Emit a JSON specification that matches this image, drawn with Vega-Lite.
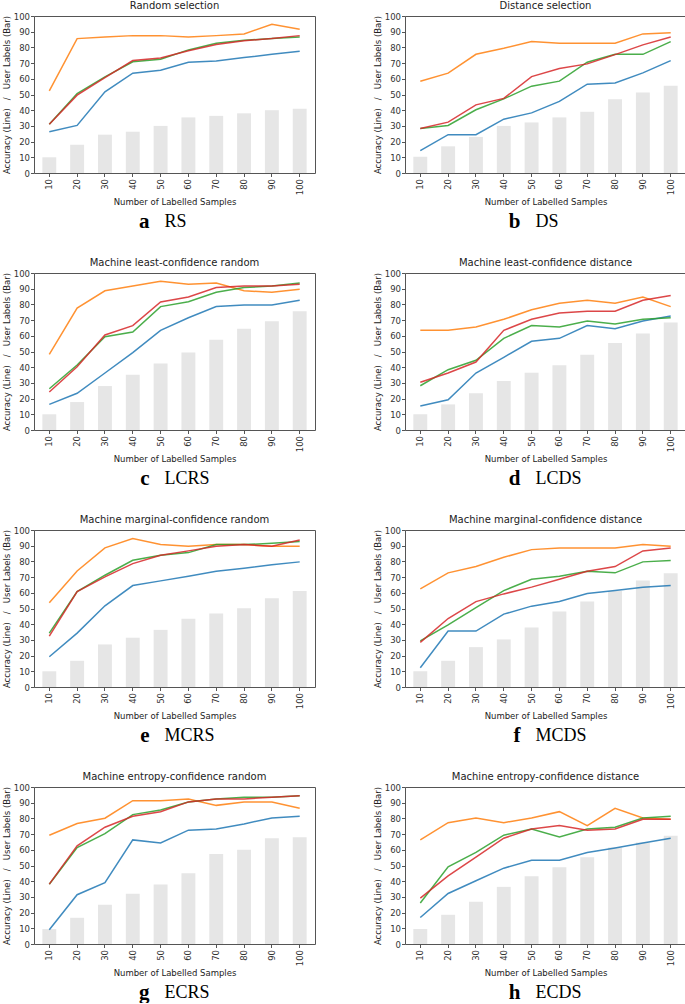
{
  "$schema": "https://vega.github.io/schema/vega-lite/v6.json",
  "padding": {"left": 1, "top": 0, "right": 0, "bottom": 0},
  "background": "white",
  "datasets": {
    "acc": [
      {"p":"a","x":10,"bar":10,"b":26.3,"o":52.3,"g":31,"r":31},
      {"p":"a","x":20,"bar":18,"b":30.3,"o":85.6,"g":50.6,"r":49.6},
      {"p":"a","x":30,"bar":24.4,"b":51.7,"o":86.6,"g":61.2,"r":60.8},
      {"p":"a","x":40,"bar":26.3,"b":63.6,"o":87.5,"g":70.8,"r":71.6},
      {"p":"a","x":50,"bar":30,"b":65.5,"o":87.5,"g":72.5,"r":73.3},
      {"p":"a","x":60,"bar":35.4,"b":70.6,"o":86.6,"g":78.4,"r":77.8},
      {"p":"a","x":70,"bar":36.4,"b":71.4,"o":87.5,"g":82.6,"r":81.8},
      {"p":"a","x":80,"bar":38,"b":73.5,"o":88.6,"g":84.5,"r":84.3},
      {"p":"a","x":90,"bar":40,"b":75.6,"o":94.7,"g":85.6,"r":85.6},
      {"p":"a","x":100,"bar":41,"b":77.5,"o":91.5,"g":86.6,"r":87.5},
      {"p":"b","x":10,"bar":10.4,"b":14.2,"o":58.5,"g":28.4,"r":28.4},
      {"p":"b","x":20,"bar":17,"b":24.4,"o":63.6,"g":30.3,"r":32.4},
      {"p":"b","x":30,"bar":23,"b":24.4,"o":75.6,"g":40.3,"r":43.4},
      {"p":"b","x":40,"bar":30,"b":34.3,"o":79.4,"g":47.2,"r":47.5},
      {"p":"b","x":50,"bar":32.2,"b":38.3,"o":83.7,"g":55.3,"r":61.4},
      {"p":"b","x":60,"bar":35.4,"b":45.6,"o":82.6,"g":58.5,"r":66.5},
      {"p":"b","x":70,"bar":39,"b":56.6,"o":82.6,"g":70.6,"r":69.5},
      {"p":"b","x":80,"bar":47,"b":57.4,"o":82.6,"g":75.6,"r":75.4},
      {"p":"b","x":90,"bar":51.3,"b":63.8,"o":88.6,"g":75.6,"r":81.6},
      {"p":"b","x":100,"bar":55.5,"b":71.6,"o":89.4,"g":83.7,"r":86.6},
      {"p":"c","x":10,"bar":10,"b":16.3,"o":48.2,"g":26.3,"r":24.2},
      {"p":"c","x":20,"bar":17.8,"b":23.4,"o":77.7,"g":41.4,"r":40.3},
      {"p":"c","x":30,"bar":28,"b":36.3,"o":88.7,"g":59.4,"r":60.5},
      {"p":"c","x":40,"bar":35.2,"b":49.3,"o":91.7,"g":62.4,"r":66.5},
      {"p":"c","x":50,"bar":42.3,"b":63.5,"o":94.7,"g":78.6,"r":81.5},
      {"p":"c","x":60,"bar":49.3,"b":71.5,"o":92.8,"g":81.7,"r":84.7},
      {"p":"c","x":70,"bar":57.5,"b":78.6,"o":93.6,"g":87.7,"r":90.7},
      {"p":"c","x":80,"bar":64.5,"b":79.6,"o":88.7,"g":90.7,"r":91.7},
      {"p":"c","x":90,"bar":69.2,"b":79.6,"o":87.7,"g":91.7,"r":91.7},
      {"p":"c","x":100,"bar":75.6,"b":82.6,"o":89.6,"g":93.6,"r":92.8},
      {"p":"d","x":10,"bar":10,"b":15.3,"o":63.5,"g":28.2,"r":30.4},
      {"p":"d","x":20,"bar":16.3,"b":19.3,"o":63.5,"g":38.4,"r":36.3},
      {"p":"d","x":30,"bar":23.4,"b":36.3,"o":65.6,"g":44.4,"r":43.3},
      {"p":"d","x":40,"bar":31.2,"b":46.3,"o":70.5,"g":58.4,"r":63.5},
      {"p":"d","x":50,"bar":36.5,"b":56.5,"o":76.6,"g":66.5,"r":70.5},
      {"p":"d","x":60,"bar":41.2,"b":58.4,"o":80.7,"g":65.6,"r":74.5},
      {"p":"d","x":70,"bar":48,"b":66.5,"o":82.6,"g":69.4,"r":75.6},
      {"p":"d","x":80,"bar":55.4,"b":64.5,"o":80.7,"g":67.5,"r":75.6},
      {"p":"d","x":90,"bar":61.4,"b":69.4,"o":84.7,"g":70.5,"r":82.6},
      {"p":"d","x":100,"bar":68.4,"b":72.6,"o":78.6,"g":71.5,"r":85.6},
      {"p":"e","x":10,"bar":10,"b":19.3,"o":53.6,"g":34.3,"r":32.4},
      {"p":"e","x":20,"bar":16.7,"b":34.3,"o":73.9,"g":60.8,"r":60.8},
      {"p":"e","x":30,"bar":27.1,"b":51.7,"o":88.6,"g":71.2,"r":70.1},
      {"p":"e","x":40,"bar":31.4,"b":64.6,"o":94.5,"g":80.7,"r":78.6},
      {"p":"e","x":50,"bar":36.4,"b":67.6,"o":90.7,"g":83.9,"r":83.9},
      {"p":"e","x":60,"bar":43.4,"b":70.6,"o":89.6,"g":85.6,"r":86.7},
      {"p":"e","x":70,"bar":46.8,"b":73.7,"o":90.7,"g":90.7,"r":89.6},
      {"p":"e","x":80,"bar":50.2,"b":75.6,"o":90.7,"g":90.7,"r":90.7},
      {"p":"e","x":90,"bar":56.6,"b":77.8,"o":89.6,"g":91.5,"r":89.6},
      {"p":"e","x":100,"bar":61.2,"b":79.7,"o":89.6,"g":92.6,"r":93.6},
      {"p":"f","x":10,"bar":10,"b":12.3,"o":62.5,"g":29.4,"r":28.4},
      {"p":"f","x":20,"bar":16.7,"b":35.6,"o":72.7,"g":39.6,"r":43.6},
      {"p":"f","x":30,"bar":25.4,"b":35.6,"o":76.7,"g":50.6,"r":54.4},
      {"p":"f","x":40,"bar":30.3,"b":46.4,"o":82.6,"g":61.4,"r":59.3},
      {"p":"f","x":50,"bar":37.9,"b":51.5,"o":87.5,"g":68.6,"r":63.6},
      {"p":"f","x":60,"bar":48.1,"b":54.4,"o":88.6,"g":70.6,"r":68.6},
      {"p":"f","x":70,"bar":54.4,"b":59.5,"o":88.6,"g":73.7,"r":73.7},
      {"p":"f","x":80,"bar":61.2,"b":61.4,"o":88.6,"g":72.7,"r":76.7},
      {"p":"f","x":90,"bar":67.8,"b":63.6,"o":90.7,"g":79.7,"r":86.7},
      {"p":"f","x":100,"bar":72.5,"b":64.6,"o":89.6,"g":80.5,"r":88.6},
      {"p":"g","x":10,"bar":9.5,"b":9.1,"o":69.3,"g":38.1,"r":38.1},
      {"p":"g","x":20,"bar":16.7,"b":31.4,"o":76.7,"g":61.4,"r":62.5},
      {"p":"g","x":30,"bar":25,"b":39,"o":80.1,"g":70.3,"r":74.4},
      {"p":"g","x":40,"bar":32,"b":66.3,"o":91.3,"g":82.4,"r":81.4},
      {"p":"g","x":50,"bar":37.9,"b":64.4,"o":91.3,"g":85.4,"r":84.3},
      {"p":"g","x":60,"bar":45.1,"b":72.5,"o":92.4,"g":90.5,"r":90.5},
      {"p":"g","x":70,"bar":57.4,"b":73.3,"o":88.3,"g":92.4,"r":92.4},
      {"p":"g","x":80,"bar":60,"b":76.5,"o":90.5,"g":93.4,"r":92.4},
      {"p":"g","x":90,"bar":67.4,"b":80.3,"o":90.5,"g":93.4,"r":93.4},
      {"p":"g","x":100,"bar":68,"b":81.4,"o":86.4,"g":94.5,"r":94.5},
      {"p":"h","x":10,"bar":9.5,"b":16.9,"o":66.3,"g":26.1,"r":29.2},
      {"p":"h","x":20,"bar":18.6,"b":32.2,"o":77.3,"g":49.2,"r":43.4},
      {"p":"h","x":30,"bar":26.9,"b":40.3,"o":80.3,"g":58.3,"r":55.3},
      {"p":"h","x":40,"bar":36.4,"b":48.3,"o":77.3,"g":69.3,"r":67.4},
      {"p":"h","x":50,"bar":43.2,"b":53.4,"o":80.3,"g":73.3,"r":73.3},
      {"p":"h","x":60,"bar":48.9,"b":53.4,"o":84.3,"g":68.2,"r":75.4},
      {"p":"h","x":70,"bar":55.3,"b":58.3,"o":75.4,"g":73.3,"r":72.5},
      {"p":"h","x":80,"bar":61.4,"b":61.2,"o":86.4,"g":74.4,"r":73.3},
      {"p":"h","x":90,"bar":64.6,"b":64.4,"o":80.3,"g":80.3,"r":79.4},
      {"p":"h","x":100,"bar":68.9,"b":67.4,"o":79.4,"g":81.4,"r":79.4}
    ],
    "cap": [
      {"p":"a","letter":"a","name":"RS"},
      {"p":"b","letter":"b","name":"DS"},
      {"p":"c","letter":"c","name":"LCRS"},
      {"p":"d","letter":"d","name":"LCDS"},
      {"p":"e","letter":"e","name":"MCRS"},
      {"p":"f","letter":"f","name":"MCDS"},
      {"p":"g","letter":"g","name":"ECRS"},
      {"p":"h","letter":"h","name":"ECDS"}
    ]
  },
  "spacing": 25,
  "vconcat": [
    {"hconcat": [
      {"spacing": 4, "vconcat": [
        {"width": 281, "height": 157, "title": "Random selection", "data": {"name": "acc"}, "transform": [{"filter": "datum.p === 'a'"}],
         "encoding": {"x": {"field": "x", "type": "ordinal", "title": "Number of Labelled Samples", "scale": {"paddingInner": 0.5, "paddingOuter": 0.3}}},
         "layer": [
           {"mark": {"type": "bar", "color": "#e6e6e6"}, "encoding": {"y": {"field": "bar", "type": "quantitative", "scale": {"domain": [0, 100]}, "axis": {"values": [0,10,20,30,40,50,60,70,80,90,100], "tickCount": 11}, "title": "Accuracy (Line)\u00a0\u00a0\u00a0/\u00a0\u00a0\u00a0User Labels (Bar)"}}},
           {"transform": [{"fold": ["b","o","g","r"], "as": ["s","v"]}], "mark": {"type": "line", "strokeWidth": 1.5, "opacity": 0.85}, "encoding": {"y": {"field": "v", "type": "quantitative", "axis": {"values": [0,10,20,30,40,50,60,70,80,90,100], "tickCount": 11}, "title": "Accuracy (Line)\u00a0\u00a0\u00a0/\u00a0\u00a0\u00a0User Labels (Bar)"}, "color": {"field": "s", "type": "nominal", "legend": null, "scale": {"domain": ["b","o","g","r"], "range": ["#1f77b4","#ff7f0e","#2ca02c","#d62728"]}}}}
         ]},
        {"width": 281, "height": 20, "view": {"stroke": null}, "data": {"name": "cap"}, "transform": [{"filter": "datum.p === 'a'"}],
         "layer": [
           {"mark": {"type": "text", "font": "Liberation Serif", "fontSize": 21, "fontWeight": "bold", "align": "right", "dx": -25}, "encoding": {"text": {"field": "letter", "type": "nominal"}}},
           {"mark": {"type": "text", "font": "Liberation Serif", "fontSize": 18, "align": "left", "dx": -10}, "encoding": {"text": {"field": "name", "type": "nominal"}}}
         ]}
      ]},
      {"spacing": 4, "vconcat": [
        {"width": 281, "height": 157, "title": "Distance selection", "data": {"name": "acc"}, "transform": [{"filter": "datum.p === 'b'"}],
         "encoding": {"x": {"field": "x", "type": "ordinal", "title": "Number of Labelled Samples", "scale": {"paddingInner": 0.5, "paddingOuter": 0.3}}},
         "layer": [
           {"mark": {"type": "bar", "color": "#e6e6e6"}, "encoding": {"y": {"field": "bar", "type": "quantitative", "scale": {"domain": [0, 100]}, "axis": {"values": [0,10,20,30,40,50,60,70,80,90,100], "tickCount": 11}, "title": "Accuracy (Line)\u00a0\u00a0\u00a0/\u00a0\u00a0\u00a0User Labels (Bar)"}}},
           {"transform": [{"fold": ["b","o","g","r"], "as": ["s","v"]}], "mark": {"type": "line", "strokeWidth": 1.5, "opacity": 0.85}, "encoding": {"y": {"field": "v", "type": "quantitative", "axis": {"values": [0,10,20,30,40,50,60,70,80,90,100], "tickCount": 11}, "title": "Accuracy (Line)\u00a0\u00a0\u00a0/\u00a0\u00a0\u00a0User Labels (Bar)"}, "color": {"field": "s", "type": "nominal", "legend": null, "scale": {"domain": ["b","o","g","r"], "range": ["#1f77b4","#ff7f0e","#2ca02c","#d62728"]}}}}
         ]},
        {"width": 281, "height": 20, "view": {"stroke": null}, "data": {"name": "cap"}, "transform": [{"filter": "datum.p === 'b'"}],
         "layer": [
           {"mark": {"type": "text", "font": "Liberation Serif", "fontSize": 21, "fontWeight": "bold", "align": "right", "dx": -25}, "encoding": {"text": {"field": "letter", "type": "nominal"}}},
           {"mark": {"type": "text", "font": "Liberation Serif", "fontSize": 18, "align": "left", "dx": -10}, "encoding": {"text": {"field": "name", "type": "nominal"}}}
         ]}
      ]}
    ]},
    {"hconcat": [
      {"spacing": 4, "vconcat": [
        {"width": 281, "height": 157, "title": "Machine least-confidence random", "data": {"name": "acc"}, "transform": [{"filter": "datum.p === 'c'"}],
         "encoding": {"x": {"field": "x", "type": "ordinal", "title": "Number of Labelled Samples", "scale": {"paddingInner": 0.5, "paddingOuter": 0.3}}},
         "layer": [
           {"mark": {"type": "bar", "color": "#e6e6e6"}, "encoding": {"y": {"field": "bar", "type": "quantitative", "scale": {"domain": [0, 100]}, "axis": {"values": [0,10,20,30,40,50,60,70,80,90,100], "tickCount": 11}, "title": "Accuracy (Line)\u00a0\u00a0\u00a0/\u00a0\u00a0\u00a0User Labels (Bar)"}}},
           {"transform": [{"fold": ["b","o","g","r"], "as": ["s","v"]}], "mark": {"type": "line", "strokeWidth": 1.5, "opacity": 0.85}, "encoding": {"y": {"field": "v", "type": "quantitative", "axis": {"values": [0,10,20,30,40,50,60,70,80,90,100], "tickCount": 11}, "title": "Accuracy (Line)\u00a0\u00a0\u00a0/\u00a0\u00a0\u00a0User Labels (Bar)"}, "color": {"field": "s", "type": "nominal", "legend": null, "scale": {"domain": ["b","o","g","r"], "range": ["#1f77b4","#ff7f0e","#2ca02c","#d62728"]}}}}
         ]},
        {"width": 281, "height": 20, "view": {"stroke": null}, "data": {"name": "cap"}, "transform": [{"filter": "datum.p === 'c'"}],
         "layer": [
           {"mark": {"type": "text", "font": "Liberation Serif", "fontSize": 21, "fontWeight": "bold", "align": "right", "dx": -25}, "encoding": {"text": {"field": "letter", "type": "nominal"}}},
           {"mark": {"type": "text", "font": "Liberation Serif", "fontSize": 18, "align": "left", "dx": -10}, "encoding": {"text": {"field": "name", "type": "nominal"}}}
         ]}
      ]},
      {"spacing": 4, "vconcat": [
        {"width": 281, "height": 157, "title": "Machine least-confidence distance", "data": {"name": "acc"}, "transform": [{"filter": "datum.p === 'd'"}],
         "encoding": {"x": {"field": "x", "type": "ordinal", "title": "Number of Labelled Samples", "scale": {"paddingInner": 0.5, "paddingOuter": 0.3}}},
         "layer": [
           {"mark": {"type": "bar", "color": "#e6e6e6"}, "encoding": {"y": {"field": "bar", "type": "quantitative", "scale": {"domain": [0, 100]}, "axis": {"values": [0,10,20,30,40,50,60,70,80,90,100], "tickCount": 11}, "title": "Accuracy (Line)\u00a0\u00a0\u00a0/\u00a0\u00a0\u00a0User Labels (Bar)"}}},
           {"transform": [{"fold": ["b","o","g","r"], "as": ["s","v"]}], "mark": {"type": "line", "strokeWidth": 1.5, "opacity": 0.85}, "encoding": {"y": {"field": "v", "type": "quantitative", "axis": {"values": [0,10,20,30,40,50,60,70,80,90,100], "tickCount": 11}, "title": "Accuracy (Line)\u00a0\u00a0\u00a0/\u00a0\u00a0\u00a0User Labels (Bar)"}, "color": {"field": "s", "type": "nominal", "legend": null, "scale": {"domain": ["b","o","g","r"], "range": ["#1f77b4","#ff7f0e","#2ca02c","#d62728"]}}}}
         ]},
        {"width": 281, "height": 20, "view": {"stroke": null}, "data": {"name": "cap"}, "transform": [{"filter": "datum.p === 'd'"}],
         "layer": [
           {"mark": {"type": "text", "font": "Liberation Serif", "fontSize": 21, "fontWeight": "bold", "align": "right", "dx": -25}, "encoding": {"text": {"field": "letter", "type": "nominal"}}},
           {"mark": {"type": "text", "font": "Liberation Serif", "fontSize": 18, "align": "left", "dx": -10}, "encoding": {"text": {"field": "name", "type": "nominal"}}}
         ]}
      ]}
    ]},
    {"hconcat": [
      {"spacing": 4, "vconcat": [
        {"width": 281, "height": 157, "title": "Machine marginal-confidence random", "data": {"name": "acc"}, "transform": [{"filter": "datum.p === 'e'"}],
         "encoding": {"x": {"field": "x", "type": "ordinal", "title": "Number of Labelled Samples", "scale": {"paddingInner": 0.5, "paddingOuter": 0.3}}},
         "layer": [
           {"mark": {"type": "bar", "color": "#e6e6e6"}, "encoding": {"y": {"field": "bar", "type": "quantitative", "scale": {"domain": [0, 100]}, "axis": {"values": [0,10,20,30,40,50,60,70,80,90,100], "tickCount": 11}, "title": "Accuracy (Line)\u00a0\u00a0\u00a0/\u00a0\u00a0\u00a0User Labels (Bar)"}}},
           {"transform": [{"fold": ["b","o","g","r"], "as": ["s","v"]}], "mark": {"type": "line", "strokeWidth": 1.5, "opacity": 0.85}, "encoding": {"y": {"field": "v", "type": "quantitative", "axis": {"values": [0,10,20,30,40,50,60,70,80,90,100], "tickCount": 11}, "title": "Accuracy (Line)\u00a0\u00a0\u00a0/\u00a0\u00a0\u00a0User Labels (Bar)"}, "color": {"field": "s", "type": "nominal", "legend": null, "scale": {"domain": ["b","o","g","r"], "range": ["#1f77b4","#ff7f0e","#2ca02c","#d62728"]}}}}
         ]},
        {"width": 281, "height": 20, "view": {"stroke": null}, "data": {"name": "cap"}, "transform": [{"filter": "datum.p === 'e'"}],
         "layer": [
           {"mark": {"type": "text", "font": "Liberation Serif", "fontSize": 21, "fontWeight": "bold", "align": "right", "dx": -25}, "encoding": {"text": {"field": "letter", "type": "nominal"}}},
           {"mark": {"type": "text", "font": "Liberation Serif", "fontSize": 18, "align": "left", "dx": -10}, "encoding": {"text": {"field": "name", "type": "nominal"}}}
         ]}
      ]},
      {"spacing": 4, "vconcat": [
        {"width": 281, "height": 157, "title": "Machine marginal-confidence distance", "data": {"name": "acc"}, "transform": [{"filter": "datum.p === 'f'"}],
         "encoding": {"x": {"field": "x", "type": "ordinal", "title": "Number of Labelled Samples", "scale": {"paddingInner": 0.5, "paddingOuter": 0.3}}},
         "layer": [
           {"mark": {"type": "bar", "color": "#e6e6e6"}, "encoding": {"y": {"field": "bar", "type": "quantitative", "scale": {"domain": [0, 100]}, "axis": {"values": [0,10,20,30,40,50,60,70,80,90,100], "tickCount": 11}, "title": "Accuracy (Line)\u00a0\u00a0\u00a0/\u00a0\u00a0\u00a0User Labels (Bar)"}}},
           {"transform": [{"fold": ["b","o","g","r"], "as": ["s","v"]}], "mark": {"type": "line", "strokeWidth": 1.5, "opacity": 0.85}, "encoding": {"y": {"field": "v", "type": "quantitative", "axis": {"values": [0,10,20,30,40,50,60,70,80,90,100], "tickCount": 11}, "title": "Accuracy (Line)\u00a0\u00a0\u00a0/\u00a0\u00a0\u00a0User Labels (Bar)"}, "color": {"field": "s", "type": "nominal", "legend": null, "scale": {"domain": ["b","o","g","r"], "range": ["#1f77b4","#ff7f0e","#2ca02c","#d62728"]}}}}
         ]},
        {"width": 281, "height": 20, "view": {"stroke": null}, "data": {"name": "cap"}, "transform": [{"filter": "datum.p === 'f'"}],
         "layer": [
           {"mark": {"type": "text", "font": "Liberation Serif", "fontSize": 21, "fontWeight": "bold", "align": "right", "dx": -25}, "encoding": {"text": {"field": "letter", "type": "nominal"}}},
           {"mark": {"type": "text", "font": "Liberation Serif", "fontSize": 18, "align": "left", "dx": -10}, "encoding": {"text": {"field": "name", "type": "nominal"}}}
         ]}
      ]}
    ]},
    {"hconcat": [
      {"spacing": 4, "vconcat": [
        {"width": 281, "height": 157, "title": "Machine entropy-confidence random", "data": {"name": "acc"}, "transform": [{"filter": "datum.p === 'g'"}],
         "encoding": {"x": {"field": "x", "type": "ordinal", "title": "Number of Labelled Samples", "scale": {"paddingInner": 0.5, "paddingOuter": 0.3}}},
         "layer": [
           {"mark": {"type": "bar", "color": "#e6e6e6"}, "encoding": {"y": {"field": "bar", "type": "quantitative", "scale": {"domain": [0, 100]}, "axis": {"values": [0,10,20,30,40,50,60,70,80,90,100], "tickCount": 11}, "title": "Accuracy (Line)\u00a0\u00a0\u00a0/\u00a0\u00a0\u00a0User Labels (Bar)"}}},
           {"transform": [{"fold": ["b","o","g","r"], "as": ["s","v"]}], "mark": {"type": "line", "strokeWidth": 1.5, "opacity": 0.85}, "encoding": {"y": {"field": "v", "type": "quantitative", "axis": {"values": [0,10,20,30,40,50,60,70,80,90,100], "tickCount": 11}, "title": "Accuracy (Line)\u00a0\u00a0\u00a0/\u00a0\u00a0\u00a0User Labels (Bar)"}, "color": {"field": "s", "type": "nominal", "legend": null, "scale": {"domain": ["b","o","g","r"], "range": ["#1f77b4","#ff7f0e","#2ca02c","#d62728"]}}}}
         ]},
        {"width": 281, "height": 20, "view": {"stroke": null}, "data": {"name": "cap"}, "transform": [{"filter": "datum.p === 'g'"}],
         "layer": [
           {"mark": {"type": "text", "font": "Liberation Serif", "fontSize": 21, "fontWeight": "bold", "align": "right", "dx": -25}, "encoding": {"text": {"field": "letter", "type": "nominal"}}},
           {"mark": {"type": "text", "font": "Liberation Serif", "fontSize": 18, "align": "left", "dx": -10}, "encoding": {"text": {"field": "name", "type": "nominal"}}}
         ]}
      ]},
      {"spacing": 4, "vconcat": [
        {"width": 281, "height": 157, "title": "Machine entropy-confidence distance", "data": {"name": "acc"}, "transform": [{"filter": "datum.p === 'h'"}],
         "encoding": {"x": {"field": "x", "type": "ordinal", "title": "Number of Labelled Samples", "scale": {"paddingInner": 0.5, "paddingOuter": 0.3}}},
         "layer": [
           {"mark": {"type": "bar", "color": "#e6e6e6"}, "encoding": {"y": {"field": "bar", "type": "quantitative", "scale": {"domain": [0, 100]}, "axis": {"values": [0,10,20,30,40,50,60,70,80,90,100], "tickCount": 11}, "title": "Accuracy (Line)\u00a0\u00a0\u00a0/\u00a0\u00a0\u00a0User Labels (Bar)"}}},
           {"transform": [{"fold": ["b","o","g","r"], "as": ["s","v"]}], "mark": {"type": "line", "strokeWidth": 1.5, "opacity": 0.85}, "encoding": {"y": {"field": "v", "type": "quantitative", "axis": {"values": [0,10,20,30,40,50,60,70,80,90,100], "tickCount": 11}, "title": "Accuracy (Line)\u00a0\u00a0\u00a0/\u00a0\u00a0\u00a0User Labels (Bar)"}, "color": {"field": "s", "type": "nominal", "legend": null, "scale": {"domain": ["b","o","g","r"], "range": ["#1f77b4","#ff7f0e","#2ca02c","#d62728"]}}}}
         ]},
        {"width": 281, "height": 20, "view": {"stroke": null}, "data": {"name": "cap"}, "transform": [{"filter": "datum.p === 'h'"}],
         "layer": [
           {"mark": {"type": "text", "font": "Liberation Serif", "fontSize": 21, "fontWeight": "bold", "align": "right", "dx": -25}, "encoding": {"text": {"field": "letter", "type": "nominal"}}},
           {"mark": {"type": "text", "font": "Liberation Serif", "fontSize": 18, "align": "left", "dx": -10}, "encoding": {"text": {"field": "name", "type": "nominal"}}}
         ]}
      ]}
    ]}
  ],
  "config": {
    "font": "DejaVu Sans",
    "concat": {"spacing": 56},
    "view": {"stroke": "#555555", "strokeWidth": 1},
    "axis": {"grid": false, "domain": false, "labelFontSize": 8.5, "titleFontSize": 8.5, "titleFontWeight": "normal", "labelColor": "#333333", "titleColor": "#222222", "tickColor": "#555555", "tickSize": 3.5, "labelPadding": 2, "titlePadding": 3, "labelOverlap": false},
    "axisX": {"labelAngle": -90},
    "axisY": {"tickCount": 11, "labelPadding": 1, "titlePadding": 2},
    "title": {"fontSize": 10, "fontWeight": "normal", "color": "#222222", "offset": 1, "frame": "group"}
  }
}
